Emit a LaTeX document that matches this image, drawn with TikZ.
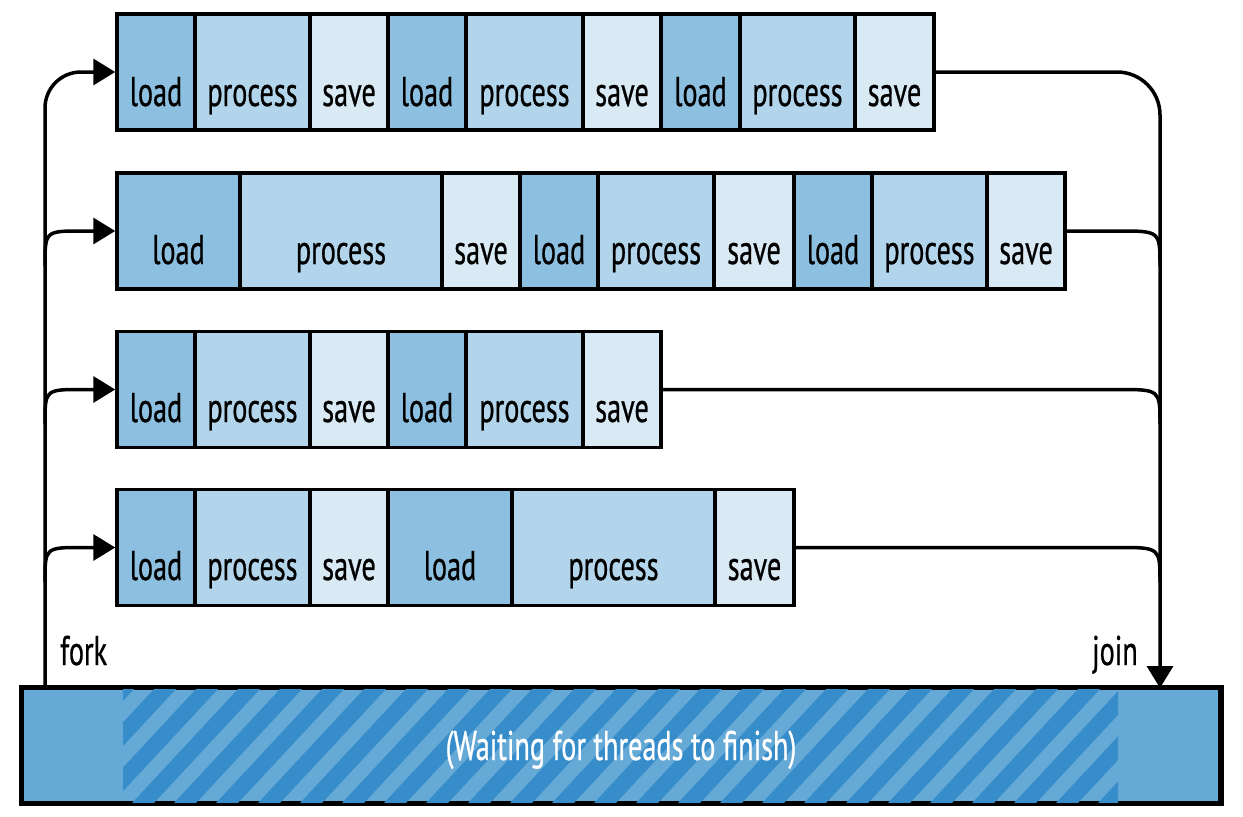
\documentclass[tikz,border=0pt]{standalone}
\usepackage{fontspec}
\setmainfont{PT Sans}[FakeStretch=0.68,FakeBold=0.6]
\usetikzlibrary{arrows.meta}
\definecolor{ldc}{HTML}{8DBFE1}
\definecolor{prc}{HTML}{B3D5EB}
\definecolor{svc}{HTML}{DAEAF5}
\definecolor{barc}{HTML}{65A9D7}
\definecolor{stripec}{HTML}{378DCA}
\begin{document}
\begin{tikzpicture}[x=1pt,y=-1pt,
  cell/.style={draw=black,line width=3.5pt,inner sep=0pt,minimum height=116pt},
  lbl/.style={font=\fontsize{41.5}{48}\selectfont,inner sep=0pt,anchor=base},
  conn/.style={line width=3.5pt,line join=round},
  tip/.style={-{Triangle[length=22pt,width=26pt]}}
]
\useasboundingbox (0,0) rectangle (1243,817);

% bar
\node[draw=black,line width=3.5pt,fill=barc,minimum width=1198pt,minimum height=114pt,inner sep=0pt] (bar) at (621,745.5) {};
\begin{scope}
  \clip (123,688) rectangle (1118,803);
  \foreach \s in {113,155,...,1250}
    \fill[stripec] (\s,688) -- ++(22,0) -- ++(-107,115) -- ++(-22,0) -- cycle;
\end{scope}
\draw[line width=3.5pt] (bar.north west) rectangle (bar.south east);
\node[lbl,text=white] (bartext) at (621,760) {(Waiting for threads to finish)};

% row 1
\foreach \a/\b/\c/\w [count=\i] in {117/195/ldc/load,195/310/prc/process,310/388/svc/save,388/466/ldc/load,466/583/prc/process,583/661/svc/save,661/740/ldc/load,740/855/prc/process,855/934/svc/save}{
  \node[cell,fill=\c,minimum width={(\b-\a)*1pt}] (r1c\i) at ({(\a+\b)/2},72) {};
  \node[lbl] (r1t\i) at ({(\a+\b)/2},106) {\w};
}
% row 2
\foreach \a/\b/\c/\w [count=\i] in {117/240/ldc/load,240/442/prc/process,442/520/svc/save,520/598/ldc/load,598/714/prc/process,714/794/svc/save,794/872/ldc/load,872/987/prc/process,987/1065/svc/save}{
  \node[cell,fill=\c,minimum width={(\b-\a)*1pt}] (r2c\i) at ({(\a+\b)/2},231) {};
  \node[lbl] (r2t\i) at ({(\a+\b)/2},264) {\w};
}
% row 3
\foreach \a/\b/\c/\w [count=\i] in {117/195/ldc/load,195/310/prc/process,310/388/svc/save,388/466/ldc/load,466/583/prc/process,583/661/svc/save}{
  \node[cell,fill=\c,minimum width={(\b-\a)*1pt}] (r3c\i) at ({(\a+\b)/2},389.5) {};
  \node[lbl] (r3t\i) at ({(\a+\b)/2},422) {\w};
}
% row 4
\foreach \a/\b/\c/\w [count=\i] in {117/195/ldc/load,195/310/prc/process,310/388/svc/save,388/512/ldc/load,512/715/prc/process,715/794/svc/save}{
  \node[cell,fill=\c,minimum width={(\b-\a)*1pt}] (r4c\i) at ({(\a+\b)/2},547.5) {};
  \node[lbl] (r4t\i) at ({(\a+\b)/2},580) {\w};
}

% fork
\coordinate (forkbase) at (45,688);
\coordinate (f2) at (45,266);
\coordinate (f3) at (45,424);
\coordinate (f4) at (45,582);
\draw[conn,tip,rounded corners=36pt] (forkbase) |- (r1c1.west);
\draw[conn,tip] (f2) .. controls (45,231) .. (82,231) -- (r2c1.west);
\draw[conn,tip] (f3) .. controls (45,389.5) .. (82,389.5) -- (r3c1.west);
\draw[conn,tip] (f4) .. controls (45,547.5) .. (82,547.5) -- (r4c1.west);

% join
\coordinate (joinpt) at (1160,688);
\coordinate (j2) at (1160,266);
\coordinate (j3) at (1160,424);
\coordinate (j4) at (1160,582);
\draw[conn,-{Triangle[length=22pt,width=26pt]},rounded corners=43pt] (r1c9.east) -| (joinpt);
\draw[conn] (r2c9.east) -- (1118,231) .. controls (1160,231) .. (j2);
\draw[conn] (r3c6.east) -- (1118,389.5) .. controls (1160,389.5) .. (j3);
\draw[conn] (r4c6.east) -- (1118,547.5) .. controls (1160,547.5) .. (j4);

\node[lbl,anchor=base west] (fork) at (60,665) {fork};
\node[lbl,anchor=base east] (join) at (1138,665) {join};
\end{tikzpicture}
\end{document}
